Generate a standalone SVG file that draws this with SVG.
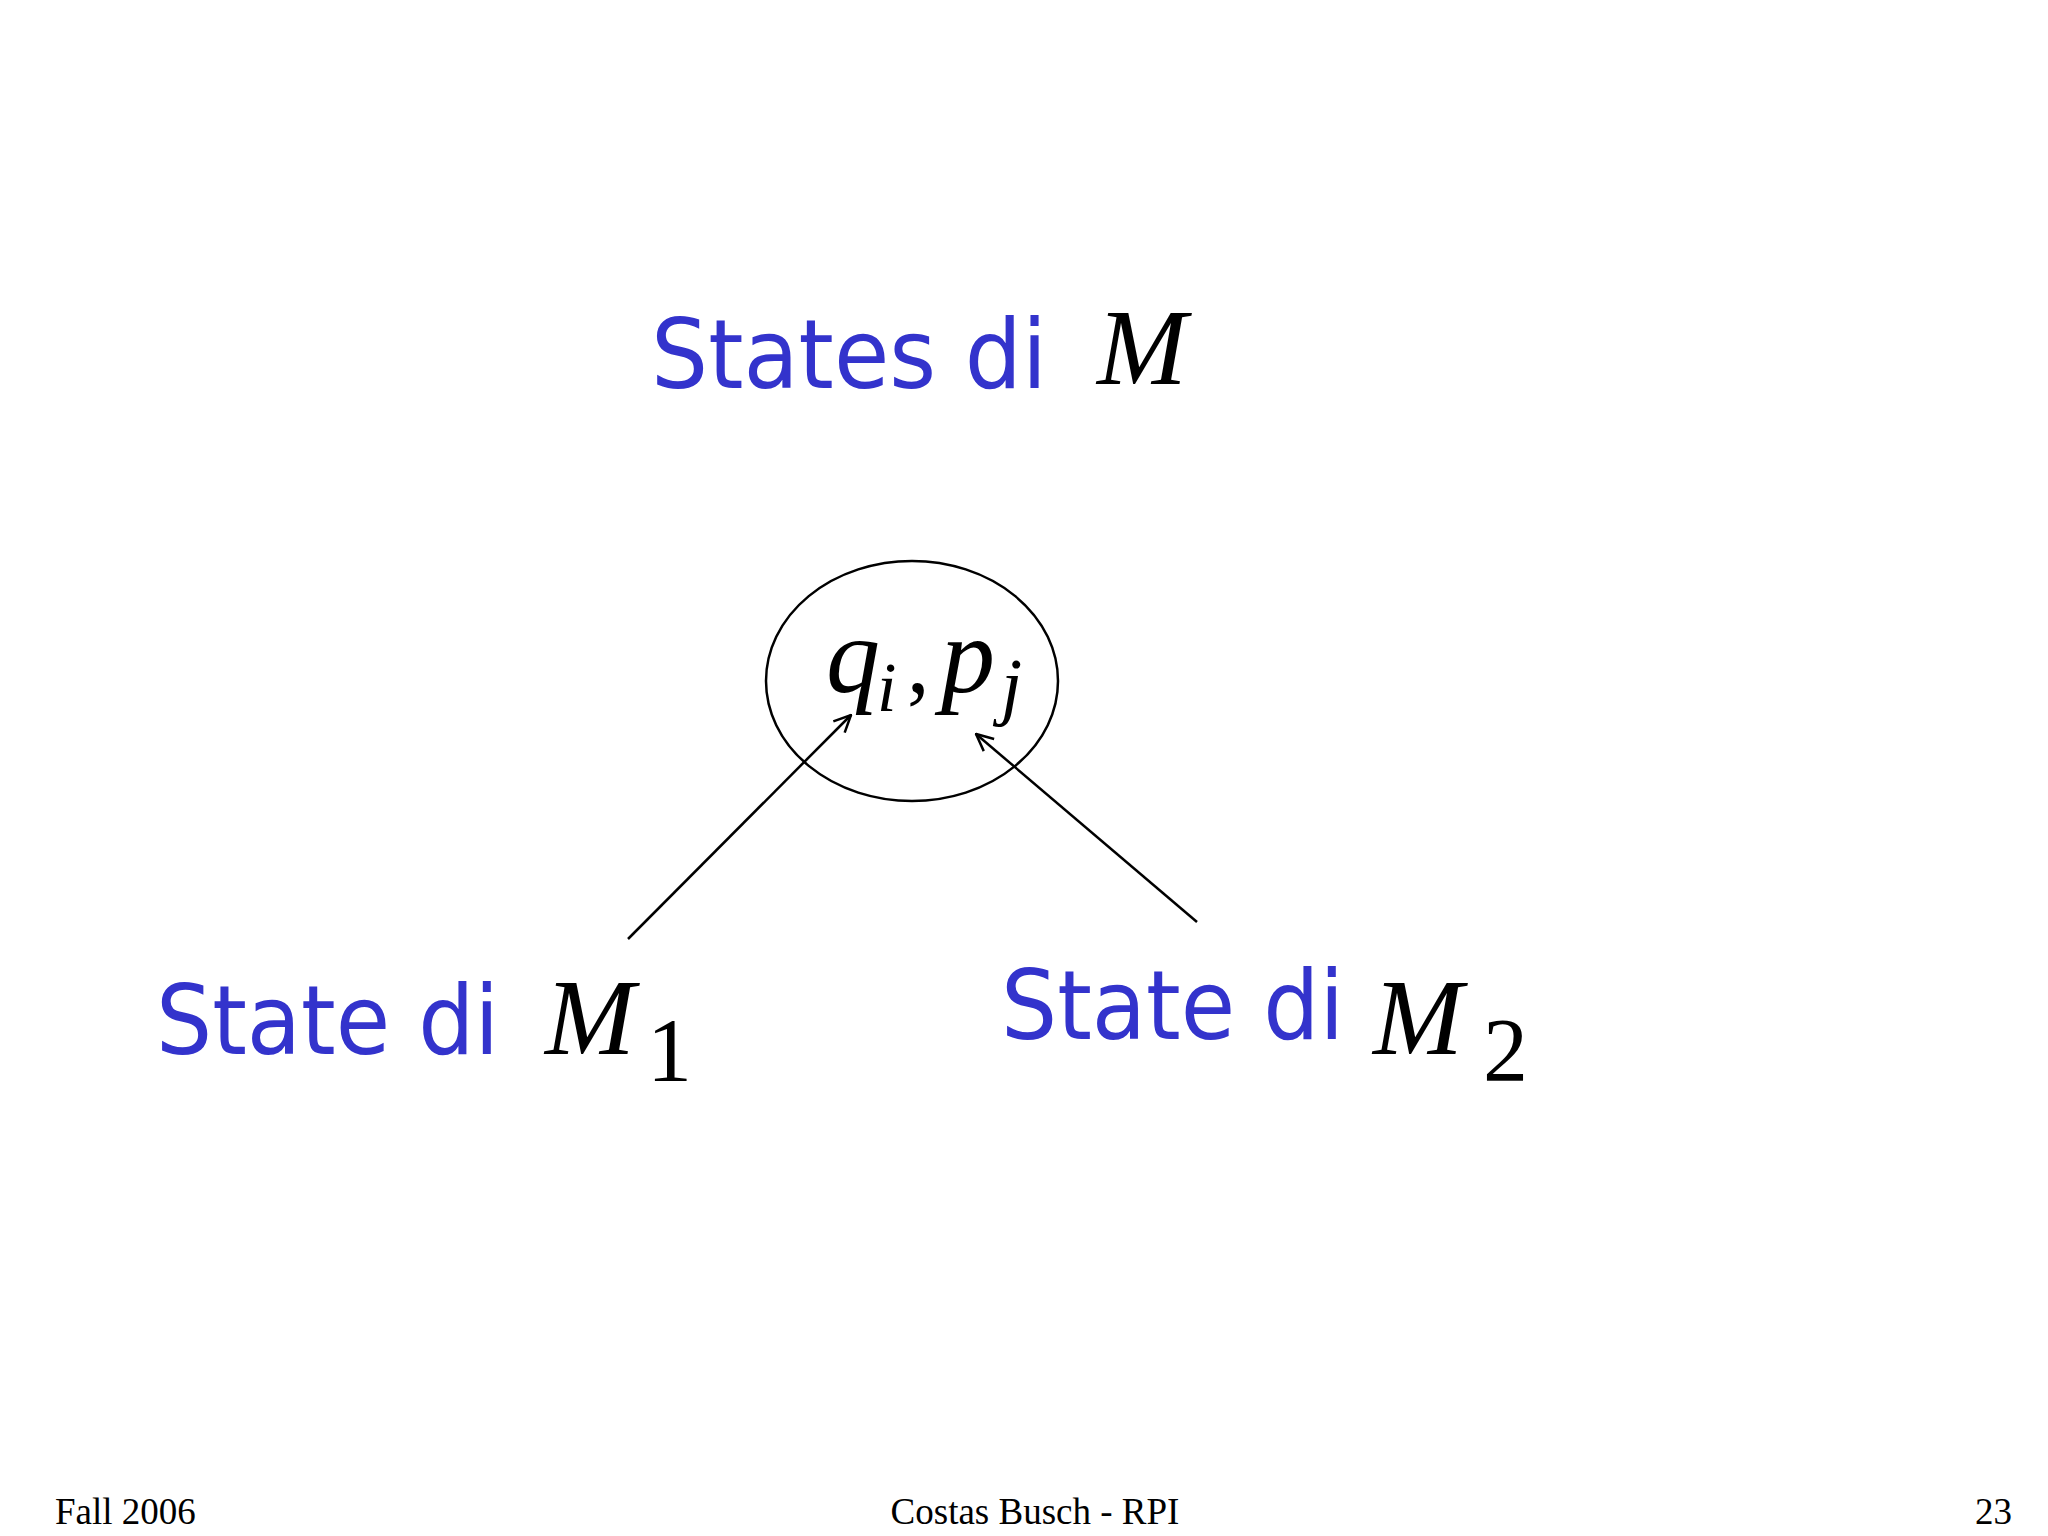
<svg xmlns="http://www.w3.org/2000/svg" width="2048" height="1536" viewBox="0 0 2048 1536">
<style>
.lbl{font-family:"DejaVu Sans",sans-serif;fill:#3333cc;font-size:96px}
.m{font-family:"Liberation Serif",serif;font-style:italic;fill:#000}
.n{font-family:"Liberation Serif",serif;fill:#000}
.f{font-family:"Liberation Serif",serif;font-size:37px;fill:#000}
.c{stroke:#000;stroke-width:2.5;fill:none}
</style>
<defs><marker id="ah" viewBox="0 0 20 20" refX="19" refY="10" markerWidth="20" markerHeight="20" markerUnits="userSpaceOnUse" orient="auto"><path d="M2,2 L19,10 L2,18" fill="none" stroke="#000" stroke-width="2.5"/></marker></defs>
<rect width="2048" height="1536" fill="#fff"/>
<g transform="translate(-9,-8)">
<g id="title"><text class="lbl" x="660" y="396" textLength="396" lengthAdjust="spacingAndGlyphs">States di</text><text class="m" x="1106" y="392" font-size="108">M</text></g>
<g id="state"><ellipse cx="921" cy="689" rx="146" ry="120" class="c"/>
<text class="m" x="835" y="700" font-size="108">q</text><text class="m" x="886" y="719" font-size="70">i</text><text class="n" x="916" y="700" font-size="90">,</text><text class="m" x="950" y="700" font-size="108">p</text><text class="m" x="1010" y="719" font-size="76">j</text></g>
<g id="m1"><text class="lbl" x="165" y="1062" textLength="343" lengthAdjust="spacingAndGlyphs">State di</text><text class="m" x="554" y="1062" font-size="108">M</text><text class="n" x="656" y="1089" font-size="90">1</text></g>
<g id="m2"><text class="lbl" x="1010" y="1047" textLength="343" lengthAdjust="spacingAndGlyphs">State di</text><text class="m" x="1382" y="1062" font-size="108">M</text><text class="n" x="1492" y="1089" font-size="90">2</text></g>
<g id="connectors"><line class="c" x1="637" y1="947" x2="860" y2="723" marker-end="url(#ah)"/><line class="c" x1="1206" y1="930" x2="985" y2="742" marker-end="url(#ah)"/></g>
</g>
<g id="footer"><text class="f" x="55" y="1524">Fall 2006</text><text class="f" x="1035" y="1524" text-anchor="middle">Costas Busch - RPI</text><text class="f" x="2012" y="1524" text-anchor="end">23</text></g>
</svg>
